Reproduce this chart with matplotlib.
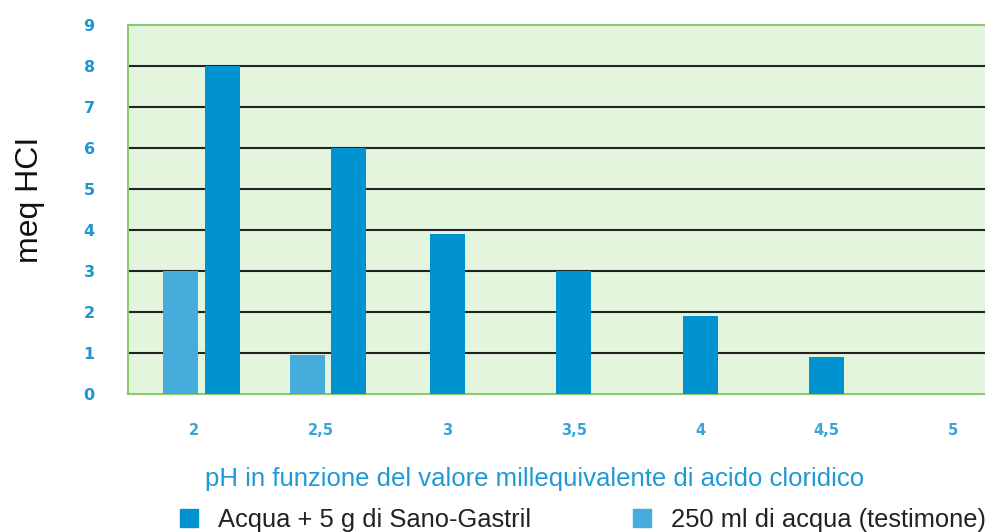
import numpy as np
import matplotlib
matplotlib.use('Agg')
import matplotlib.pyplot as plt

# Données
ph = [2, 2.5, 3, 3.5, 4, 4.5, 5]
tick_labels = ['2', '2,5', '3', '3,5', '4', '4,5', '5']
sano_gastril = [8, 6, 3.9, 3, 1.9, 0.9, 0]      # Acqua + 5 g di Sano-Gastril
testimone = [3, 0.95, 0, 0, 0, 0, 0]            # 250 ml di acqua (testimone)

c_dark = '#0093CF'
c_light = '#46ACDC'
c_green = '#8CC872'
c_bg = '#E4F5DE'

plt.rcParams['font.family'] = ['Liberation Sans', 'DejaVu Sans']

fig = plt.figure(figsize=(9.85, 5.32), dpi=100)
ax = fig.add_axes([128 / 985, 138 / 532, 857 / 985, 369 / 532])
ax.set_facecolor(c_bg)

width = 0.138
for x, v_d, v_l in zip(ph, sano_gastril, testimone):
    if v_l > 0:
        ax.bar(x - 0.053, v_l, width, color=c_light, zorder=3)
        ax.bar(x + 0.111, v_d, width, color=c_dark, zorder=3)
    elif v_d > 0:
        ax.bar(x, v_d, width, color=c_dark, zorder=3)

# lignes horizontales
for y in range(1, 9):
    ax.axhline(y, color='#232323', lw=1.5, zorder=2)

ax.set_xlim(1.739, 5.126)
ax.set_ylim(0, 9)
ax.set_yticks(range(0, 10))
ax.set_xticks(ph)
ax.set_xticklabels(tick_labels)
ax.tick_params(length=0)
ax.tick_params(axis='y', pad=24, labelcolor='#1E95D2')
ax.tick_params(axis='x', pad=21, labelcolor='#3AA3DA')
for lab in ax.get_yticklabels():
    lab.set_fontweight('bold')
    lab.set_family('DejaVu Sans')
    lab.set_fontsize(11.5)
for lab in ax.get_xticklabels():
    lab.set_fontweight('bold')
    lab.set_family('DejaVu Sans')
    lab.set_fontsize(10.5)

for s in ['left', 'top', 'bottom']:
    ax.spines[s].set_color(c_green)
    ax.spines[s].set_linewidth(1.5)
ax.spines['right'].set_visible(False)

fig.text(30 / 985, 1 - 200 / 532, 'meq HCI', rotation=90, ha='center', va='center',
         fontsize=23, color='#111111')
fig.text(205 / 985, 1 - 479 / 532,
         'pH in funzione del valore millequivalente di acido cloridico',
         ha='left', va='center', fontsize=18.5, color='#1E9AD6')

h1 = plt.Rectangle((0, 0), 1, 1, color=c_dark)
h2 = plt.Rectangle((0, 0), 1, 1, color=c_light)
fig.legend([h1, h2], ['Acqua + 5 g di Sano-Gastril', '250 ml di acqua (testimone)'],
           loc='upper left', bbox_to_anchor=(180 / 985, 1 - 508 / 532), ncol=2,
           frameon=False, fontsize=18.4, handlelength=0.7, handleheight=0.7,
           handletextpad=0.78, columnspacing=4.0, borderpad=0, borderaxespad=0,
           labelcolor='#222222')

fig.savefig('out.png', dpi=100)
